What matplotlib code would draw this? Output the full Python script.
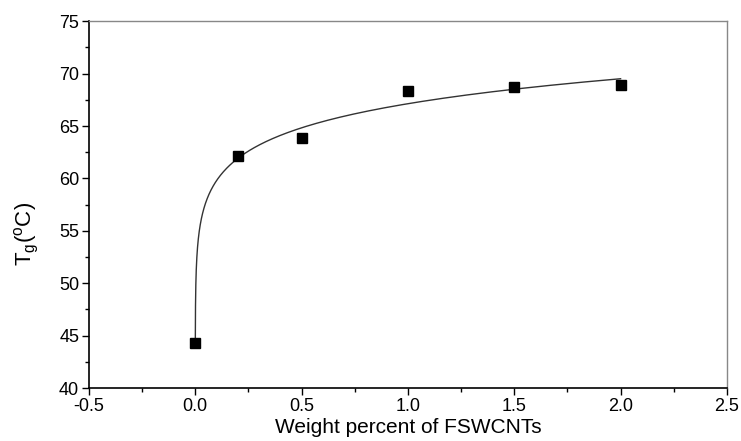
import numpy as np
import matplotlib.pyplot as plt
from matplotlib.ticker import MultipleLocator

plt.rcParams['font.family'] = ['Liberation Sans', 'DejaVu Sans']
plt.rcParams['mathtext.fontset'] = 'custom'
plt.rcParams['mathtext.rm'] = 'Liberation Sans'

# glass transition temperature vs FSWCNT loading
wt_percent = [0.0, 0.2, 0.5, 1.0, 1.5, 2.0]
tg = [44.3, 62.1, 63.9, 68.3, 68.7, 68.9]

# power-law fit y = a * x^c on the non-zero loadings (log-log least squares)
x_fit = np.array(wt_percent[1:])
y_fit = np.array(tg[1:])
c, ln_a = np.polyfit(np.log(x_fit), np.log(y_fit), 1)
a = np.exp(ln_a)
# start the curve where it meets the neat-resin value
x_start = (tg[0] / a) ** (1.0 / c)
xs = np.logspace(np.log10(x_start), np.log10(max(wt_percent)), 400)
ys = a * xs ** c

fig = plt.figure(figsize=(7.41, 4.41), dpi=100)
ax = fig.add_axes([0.120, 0.120, 0.861, 0.832])

ax.plot(xs, ys, color='#333333', lw=1.0)
ax.plot(wt_percent, tg, 's', color='black', markersize=7.5, linestyle='none')

ax.set_xlim(-0.5, 2.5)
ax.set_ylim(40, 75)
ax.xaxis.set_major_locator(MultipleLocator(0.5))
ax.xaxis.set_minor_locator(MultipleLocator(0.25))
ax.yaxis.set_major_locator(MultipleLocator(5))
ax.yaxis.set_minor_locator(MultipleLocator(2.5))
ax.xaxis.set_major_formatter(plt.FuncFormatter(lambda v, p: f'{v:.1f}'))

ax.tick_params(which='both', direction='out', top=False, right=False,
               labelsize=13, width=1.0)
ax.tick_params(which='major', length=5, pad=2)
ax.tick_params(which='minor', length=3)

for s in ['left', 'bottom']:
    ax.spines[s].set_linewidth(1.2)
    ax.spines[s].set_color('black')
for s in ['top', 'right']:
    ax.spines[s].set_linewidth(1.0)
    ax.spines[s].set_color('#888888')

ax.set_xlabel('Weight percent of FSWCNTs', fontsize=15, labelpad=2)
ax.set_ylabel(r'T$_\mathregular{g}$($^\mathregular{o}$C)', fontsize=16)
ax.yaxis.set_label_coords(-0.075, 0.42)

fig.savefig('out.png', dpi=100)
